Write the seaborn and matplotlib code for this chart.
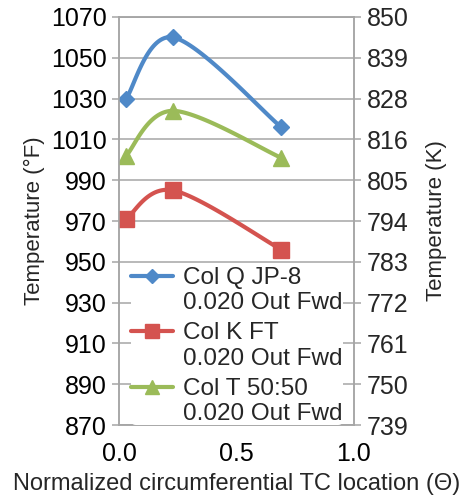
import numpy as np
import pandas as pd
import matplotlib
matplotlib.use("Agg")
import matplotlib.pyplot as plt
from matplotlib.lines import Line2D
from matplotlib.legend_handler import HandlerLine2D
import seaborn as sns

# Thermocouple readings along the circumference
theta = [0.03, 0.23, 0.69]
jp8_temp = [1030, 1060, 1016]
ft_temp = [971, 985, 956]
blend_temp = [1002, 1024, 1001]

series_names = ["Col Q JP-8\n0.020 Out Fwd",
                "Col K FT\n0.020 Out Fwd",
                "Col T 50:50\n0.020 Out Fwd"]

f_ticks = [870, 890, 910, 930, 950, 970, 990, 1010, 1030, 1050, 1070]
k_tick_labels = ["739", "750", "761", "772", "783", "794",
                 "805", "816", "828", "839", "850"]
x_ticks = [0.0, 0.5, 1.0]

colors = ["#4F89C8", "#D4534F", "#9BBB59"]
markers = ["D", "s", "^"]
marker_sizes = [8.5, 12, 12]

TICK_FS = 18
LEG_FS = 17.5
LINE_SP = 1.2


def smooth_curve(x, y, n=40):
    """Cardinal-spline (Bezier) smoothing through the given points."""
    pts = np.column_stack([x, y]).astype(float)
    ext = np.vstack([pts[0], pts, pts[-1]])
    out = []
    t = np.linspace(0, 1, n)[:, None]
    for i in range(1, len(ext) - 2):
        p0, p1, p2, p3 = ext[i - 1], ext[i], ext[i + 1], ext[i + 2]
        c1 = p1 + (p2 - p0) / 6.0
        c2 = p2 - (p3 - p1) / 6.0
        seg = ((1 - t) ** 3) * p1 + 3 * ((1 - t) ** 2) * t * c1 \
            + 3 * (1 - t) * t ** 2 * c2 + t ** 3 * p2
        out.append(seg if i == 1 else seg[1:])
    out = np.vstack(out)
    return out[:, 0], out[:, 1]


class FirstLineHandler(HandlerLine2D):
    """Legend handle placed beside the first line of a two-line label."""

    def create_artists(self, legend, orig_handle, xdescent, ydescent,
                       width, height, fontsize, trans):
        arts = super().create_artists(legend, orig_handle, xdescent, ydescent,
                                      width, height, fontsize, trans)
        shift = 0.5 * LINE_SP * fontsize
        for a in arts:
            a.set_ydata(np.asarray(a.get_ydata(), float) + shift)
        return arts


sns.set_style("white")
plt.rcParams["font.family"] = ["Liberation Sans", "DejaVu Sans"]

fig = plt.figure(figsize=(4.67, 5.0), dpi=100)
ax = fig.add_axes([0.255, 0.15, 0.503, 0.816])

grid_col = "#A6A6A6"
for name, vals, c, m, ms in zip(series_names, [jp8_temp, ft_temp, blend_temp],
                                colors, markers, marker_sizes):
    sx, sy = smooth_curve(theta, vals)
    curve = pd.DataFrame({"x": sx, "y": sy})
    sns.lineplot(data=curve, x="x", y="y", ax=ax, color=c, lw=3,
                 sort=False, estimator=None, zorder=3)
    pts = pd.DataFrame({"x": theta, "y": vals})
    ax.plot(pts["x"], pts["y"], linestyle="none", marker=m, ms=ms,
            color=c, zorder=4)

ax.set_xlim(0, 1)
ax.set_ylim(870, 1070)
ax.set_xticks(x_ticks)
ax.set_xticklabels(["0.0", "0.5", "1.0"])
ax.set_yticks(f_ticks)
ax.yaxis.grid(True, color=grid_col, lw=1.1)
ax.xaxis.grid(False)
ax.set_axisbelow(True)
for s in ax.spines.values():
    s.set_color(grid_col)
    s.set_linewidth(1.1)
ax.tick_params(axis="both", which="major", direction="out", length=5,
               width=1.1, color=grid_col, labelsize=TICK_FS, labelcolor="black")
ax.tick_params(axis="y", pad=4)
ax.tick_params(axis="x", pad=7)
ax.set_xlabel("Normalized circumferential TC location (\u0398)", fontsize=17,
              labelpad=5)
ax.set_ylabel("Temperature (\u00b0F)", fontsize=16, labelpad=4)

ax2 = ax.twinx()
ax2.set_ylim(ax.get_ylim())
ax2.set_yticks(f_ticks)
ax2.set_yticklabels(k_tick_labels)
ax2.tick_params(axis="y", direction="out", length=5, width=1.1,
                color=grid_col, labelsize=TICK_FS, pad=4)
for s in ax2.spines.values():
    s.set_color(grid_col)
    s.set_linewidth(1.1)
ax2.set_ylabel("Temperature (K)", fontsize=16, labelpad=13)
ax2.grid(False)

handles = [Line2D([], [], color=c, lw=3, marker=m, ms=ms * 0.85)
           for c, m, ms in zip(colors, markers, marker_sizes)]
leg = ax2.legend(handles, series_names, loc="lower left",
                 bbox_to_anchor=(0.05, 0.0), fontsize=LEG_FS, frameon=True,
                 framealpha=1.0, edgecolor="none", facecolor="white",
                 handlelength=1.75, handletextpad=0.4, labelspacing=0.33,
                 borderpad=0.0, borderaxespad=0.0,
                 handler_map={Line2D: FirstLineHandler()})
for t in leg.get_texts():
    t.set_linespacing(LINE_SP)

fig.savefig("out.png", dpi=100)
